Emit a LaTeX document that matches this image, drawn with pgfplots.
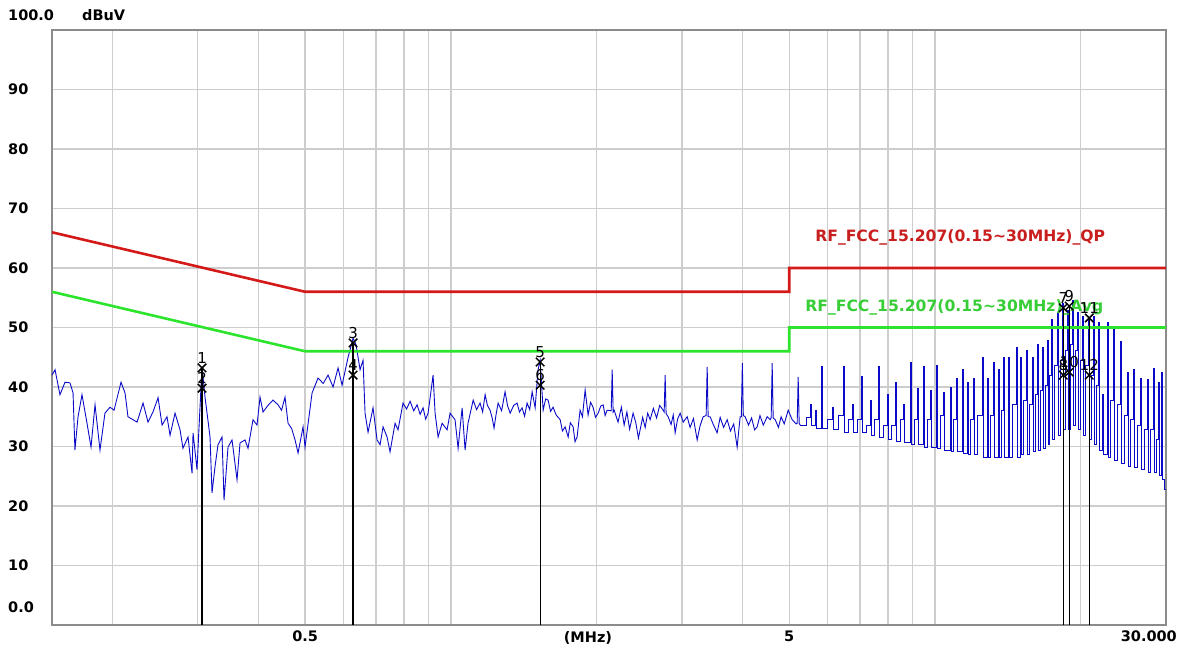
\documentclass[border=0pt]{standalone}
\usepackage{fontspec}
\setmainfont{DejaVu Sans}
\usepackage{pgfplots}
\pgfplotsset{compat=1.18}
\definecolor{trace}{RGB}{10,10,200}
\definecolor{qp}{RGB}{212,25,25}
\definecolor{qptext}{RGB}{200,30,30}
\definecolor{av}{RGB}{45,228,45}
\definecolor{avtext}{RGB}{55,205,55}
\definecolor{gridc}{RGB}{205,205,205}
\definecolor{framec}{RGB}{140,140,140}
\begin{document}
\begin{tikzpicture}
\begin{axis}[
  scale only axis, width=1114pt, height=595pt,
  xmode=log, xmin=0.15, xmax=30, ymin=0, ymax=100,
  clip=false,
  axis line style={framec, line width=2.5pt},
  xtick={0.2,0.3,0.4,0.5,0.6,0.7,0.8,0.9,1,2,3,4,5,6,7,8,9,10,20},
  xticklabels={,,,0.5,,,,,,,,,5,,,,,,},
  ytick={10,20,30,40,50,60,70,80,90},
  yticklabels={10,20,30,40,50,60,70,80,90},
  major tick length=0pt, minor tick length=0pt,
  grid=major, grid style={gridc, line width=1.3pt},
  ticklabel style={font=\fontsize{14.5}{17}\selectfont\bfseries},
  yticklabel style={anchor=west, inner sep=0pt, xshift=-44pt},
  xticklabel style={anchor=north, inner sep=0pt, yshift=-6pt},
]
\coordinate (ll) at (rel axis cs:0,0);
% measured trace, 0.15 - 5.27 MHz
\addplot[trace, line width=0.9pt, sharp plot, mark=none] coordinates {
(0.1500,42.0)(0.1522,42.9)(0.1558,38.7)(0.1596,40.8)(0.1634,40.7)(0.1658,39.0)(0.1673,29.4)(0.1698,35.0)
(0.1730,38.7)(0.1772,33.9)(0.1806,29.9)(0.1841,37.0)(0.1885,29.4)(0.1930,35.6)(0.1977,36.6)(0.2015,36.1)
(0.2083,40.8)(0.2123,39.0)(0.2153,35.0)(0.2248,34.1)(0.2313,37.3)(0.2368,34.1)(0.2425,35.8)(0.2484,38.2)
(0.2532,33.6)(0.2592,35.0)(0.2630,31.9)(0.2693,35.6)(0.2758,32.8)(0.2797,29.7)(0.2865,31.6)(0.2920,25.5)
(0.2934,32.3)(0.2990,26.1)(0.3019,33.3)(0.3062,43.4)(0.3106,38.3)(0.3181,31.6)(0.3211,22.2)(0.3257,26.6)
(0.3304,30.3)(0.3368,31.6)(0.3400,21.0)(0.3465,29.9)(0.3532,31.1)(0.3617,24.4)(0.3669,30.6)(0.3757,31.1)
(0.3811,29.7)(0.3903,34.5)(0.3978,33.6)(0.4035,38.3)(0.4093,35.8)(0.4190,36.9)(0.4292,37.8)(0.4396,37.0)
(0.4470,36.1)(0.4544,38.3)(0.4610,33.9)(0.4690,33.0)(0.4766,31.1)(0.4835,28.9)(0.4951,33.3)(0.4998,29.9)
(0.5168,39.0)(0.5317,41.5)(0.5450,40.6)(0.5576,42.0)(0.5711,40.0)(0.5848,43.2)(0.5960,40.3)(0.6133,45.0)
(0.6191,46.2)(0.6280,48.2)(0.6371,47.1)(0.6493,42.9)(0.6586,44.5)(0.6649,35.6)(0.6745,32.4)(0.6907,36.5)
(0.7040,31.1)(0.7142,30.3)(0.7244,33.3)(0.7383,31.6)(0.7489,29.1)(0.7670,33.9)(0.7780,32.8)(0.7967,37.3)
(0.8100,36.3)(0.8237,37.6)(0.8380,36.0)(0.8516,37.0)(0.8640,35.4)(0.8762,36.5)(0.8870,34.6)(0.8974,35.6)
(0.9189,42.0)(0.9277,35.6)(0.9411,31.6)(0.9591,33.9)(0.9822,32.8)(0.9963,35.6)(1.020,34.5)(1.035,29.7)
(1.055,36.5)(1.070,29.4)(1.085,33.9)(1.112,37.8)(1.130,36.2)(1.149,37.3)(1.163,35.8)(1.177,38.7)
(1.190,36.9)(1.205,36.1)(1.217,34.8)(1.228,33.1)(1.240,35.4)(1.252,37.3)(1.273,36.0)(1.294,39.2)
(1.310,36.8)(1.326,35.6)(1.348,36.9)(1.370,37.3)(1.386,35.8)(1.403,36.5)(1.420,35.1)(1.437,37.3)
(1.455,36.2)(1.472,39.2)(1.493,36.5)(1.514,42.9)(1.529,44.5)(1.551,36.1)(1.570,38.0)(1.588,37.8)
(1.607,35.9)(1.626,36.6)(1.650,35.3)(1.682,34.5)(1.700,32.6)(1.722,33.3)(1.747,31.6)(1.765,34.0)
(1.789,33.3)(1.805,30.8)(1.823,31.6)(1.849,36.1)(1.870,35.0)(1.894,39.5)(1.921,35.3)(1.944,37.4)
(1.967,36.6)(1.990,34.9)(2.015,35.6)(2.040,36.8)(2.063,37.0)(2.083,35.2)(2.103,36.1)
(2.144,36.0)(2.154,42.9)(2.164,35.8)(2.174,36.1)(2.215,34.1)(2.25,36.6)(2.28,33.6)(2.31,35.8)(2.34,32.9)
(2.379,35.6)(2.41,34.0)(2.44,31.4)(2.460,32.8)(2.49,34.9)(2.52,33.2)(2.55,35.6)(2.580,34.5)
(2.62,36.4)(2.66,34.8)(2.70,36.9)(2.745,36.1)(2.758,35.8)(2.771,42.0)(2.784,35.5)(2.811,35.0)(2.85,33.7)(2.88,35.3)
(2.906,32.3)(2.94,34.6)(2.976,35.6)(3.02,34.1)(3.077,35.0)(3.12,33.2)(3.17,34.7)(3.227,31.1)
(3.27,33.4)(3.320,35.0)(3.368,35.2)(3.384,43.4)(3.400,35.0)(3.432,35.0)(3.48,33.8)(3.548,32.3)(3.60,34.9)(3.66,33.2)
(3.722,34.5)(3.78,32.6)(3.84,33.8)(3.903,29.9)(3.959,35.0)(3.981,35.0)(4.000,44.0)(4.019,35.2)(4.054,35.0)(4.12,33.6)
(4.18,34.8)(4.24,32.8)(4.292,33.3)(4.35,35.2)(4.42,33.6)(4.502,35.0)(4.567,34.5)(4.588,34.8)(4.610,44.0)(4.632,34.8)
(4.677,34.5)(4.75,33.2)(4.81,35.0)(4.881,33.8)(4.975,36.1)(5.070,34.5)(5.168,33.8)(5.192,33.9)(5.217,41.7)(5.242,33.9)
(5.267,33.6)
};
% measured trace, 5.27 - 30 MHz
\addplot[trace, line width=0.9pt, const plot, mark=none] coordinates {
(5.267,33.6)(5.420,34.8)(5.524,37.0)(5.550,33.6)(5.657,36.1)(5.684,33.1)(5.820,43.5)(5.848,33.1)
(5.989,34.5)(6.133,36.5)(6.162,32.8)(6.311,35.3)(6.463,43.5)(6.493,32.4)(6.618,34.5)(6.745,37.0)
(6.778,32.3)(6.908,34.5)(7.041,41.7)(7.074,32.3)(7.210,33.6)(7.349,37.8)(7.384,31.9)(7.490,34.5)
(7.634,43.5)(7.670,31.6)(7.817,33.6)(7.968,38.7)(8.006,31.1)(8.121,33.6)(8.277,40.7)(8.316,30.8)
(8.476,34.5)(8.598,37.0)(8.639,30.6)(8.889,44.2)(8.931,30.3)(9.060,34.5)(9.190,39.8)(9.234,30.3)
(9.456,43.4)(9.501,29.9)(9.638,34.5)(9.776,39.5)(9.823,29.9)(10.06,43.7)(10.11,29.7)(10.25,35.3)
(10.40,39.0)(10.45,29.4)(10.75,40.0)(10.80,29.1)(10.91,34.5)(11.06,41.5)(11.12,29.1)(11.38,42.9)
(11.44,28.9)(11.66,40.8)(11.71,28.6)(11.83,34.5)(12.00,41.5)(12.05,28.6)(12.23,35.3)(12.52,45.0)
(12.58,28.2)(12.82,41.5)(12.88,28.2)(13.01,35.3)(13.19,44.2)(13.26,28.1)(13.51,42.9)(13.58,28.1)
(13.70,36.1)(13.84,44.9)(13.90,28.1)(14.17,45.0)(14.24,28.1)(14.44,37.0)(14.72,46.7)(14.79,28.2)
(15.00,44.9)(15.07,28.6)(15.22,37.8)(15.44,46.2)(15.51,28.6)(15.66,37.0)(15.88,45.0)(15.96,29.1)
(16.11,38.7)(16.27,47.1)(16.34,29.4)(16.50,39.5)(16.66,46.6)(16.74,29.7)(16.90,40.3)(17.06,47.9)
(17.14,30.3)(17.22,42.0)(17.39,51.3)(17.47,31.1)(17.64,43.7)(17.89,52.4)(17.97,31.9)(18.15,44.5)
(18.32,54.1)(18.41,32.8)(18.58,46.2)(18.76,52.9)(18.85,32.8)(19.03,47.1)(19.21,54.6)(19.30,33.6)
(19.49,46.2)(19.67,52.6)(19.77,32.8)(19.96,44.5)(20.15,51.8)(20.24,31.9)(20.44,43.7)(20.73,51.3)
(20.83,31.1)(21.03,42.0)(21.23,51.8)(21.33,30.3)(21.54,40.3)(21.74,50.9)(21.84,29.4)(22.16,38.7)
(22.26,28.6)(22.69,50.8)(22.80,28.2)(23.02,37.8)(23.35,50.1)(23.46,27.7)(23.80,37.0)(24.14,47.6)
(24.25,27.2)(24.60,35.3)(24.96,42.5)(25.08,26.6)(25.32,34.5)(25.68,42.9)(25.80,26.4)(26.17,33.6)
(26.55,41.5)(26.68,26.1)(27.06,32.8)(27.45,41.2)(27.58,25.7)(27.84,32.8)(28.24,43.2)(28.38,25.7)
(28.65,31.1)(28.92,40.8)(29.06,25.2)(29.34,42.5)(29.48,24.4)(29.76,22.7)(30.00,22.7)
};
% limit lines
\addplot[qp, line width=2.6pt, mark=none] coordinates {(0.15,66)(0.5,56)(5,56)(5,60)(30,60)};
\addplot[av, line width=2.6pt, mark=none] coordinates {(0.15,56)(0.5,46)(5,46)(5,50)(30,50)};
\node[anchor=west, inner sep=0pt, text=qptext, font=\fontsize{15.6}{18}\selectfont\bfseries] at (axis cs:5.656,65.2) {RF\_FCC\_15.207(0.15\textasciitilde 30MHz)\_QP};
\node[anchor=west, inner sep=0pt, text=avtext, font=\fontsize{15.6}{18}\selectfont\bfseries] at (axis cs:5.394,53.4) {RF\_FCC\_15.207(0.15\textasciitilde 30MHz)\_Avg};
% markers
\addplot[black, line width=1.2pt, ycomb, mark=none] coordinates {
(0.3062,43.2)(0.628,47.4)(1.529,44.2)(18.41,53.3)(18.94,53.6)(20.83,51.6)};
\addplot[black, only marks, mark=x, mark size=6pt, line width=1.5pt] coordinates {
(0.3062,43.2)(0.3062,39.8)(0.628,47.4)(0.628,42.0)(1.529,44.2)(1.529,40.3)
(18.41,53.3)(18.41,42.0)(18.94,53.6)(18.94,42.5)(20.83,51.6)(20.83,42.0)};
\addplot[only marks, mark=none, nodes near coords, point meta=explicit symbolic,
  every node near coord/.append style={anchor=south, inner sep=1pt, yshift=3pt, font=\fontsize{15}{17}\selectfont, text=black}]
coordinates {
(0.3062,43.2)[1] (0.3062,39.8)[2] (0.628,47.4)[3] (0.628,42.0)[4] (1.529,44.2)[5] (1.529,40.3)[6]
(18.41,53.3)[7] (18.41,42.0)[8] (18.94,53.6)[9] (18.94,42.5)[10] (20.83,51.6)[11] (20.83,42.0)[12]};
% extra axis texts
\node[anchor=west, inner sep=0pt, font=\fontsize{14.5}{17}\selectfont\bfseries] at (rel axis cs:0,1) [xshift=-44pt, yshift=15pt] {100.0};
\node[anchor=west, inner sep=0pt, font=\fontsize{14.5}{17}\selectfont\bfseries] at (rel axis cs:0,1) [xshift=30pt, yshift=15pt] {dBuV};
\node[anchor=west, inner sep=0pt, font=\fontsize{14.5}{17}\selectfont\bfseries] at (rel axis cs:0,0) [xshift=-44pt, yshift=18pt] {0.0};
\node[anchor=north east, inner sep=0pt, font=\fontsize{14.5}{17}\selectfont\bfseries] at (rel axis cs:1,0) [xshift=11pt, yshift=-6pt] {30.000};
\node[anchor=north, inner sep=0pt, font=\fontsize{14.5}{17}\selectfont\bfseries] at (axis cs:1.92,0) [yshift=-6pt] {(MHz)};
\end{axis}
\pgfresetboundingbox
\path (ll) ++(-52pt,-25pt) rectangle ++(1179pt,650pt);
\end{tikzpicture}
\end{document}
